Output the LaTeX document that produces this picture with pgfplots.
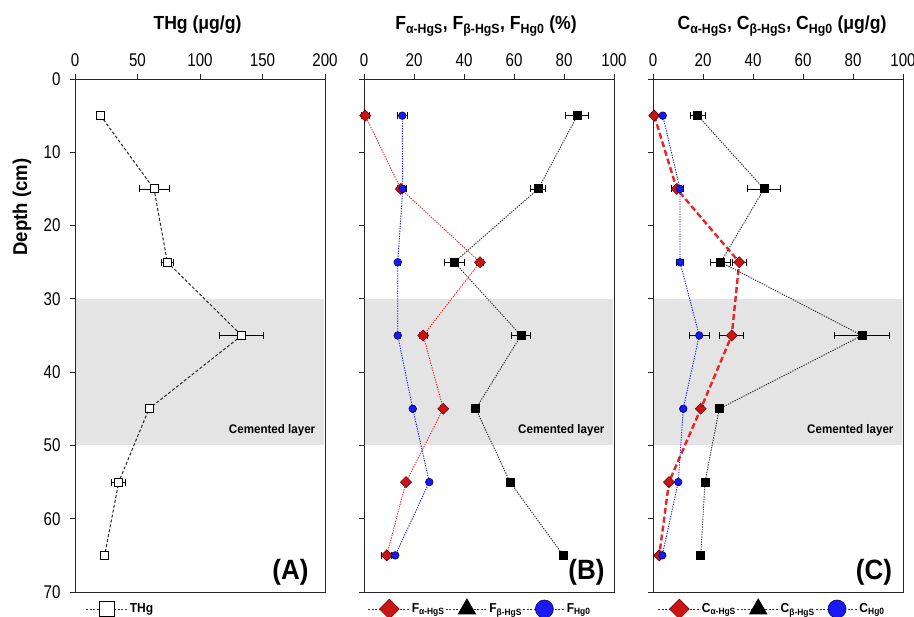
\documentclass[border=0pt]{standalone}
\usepackage{fontspec}
\setmainfont{Liberation Sans}
\newfontfamily\tickfont{Liberation Sans}[FakeStretch=0.82]
\newfontfamily\tfont{Liberation Sans}[FakeStretch=0.93]
\usepackage{pgfplots}
\pgfplotsset{compat=1.18}

\definecolor{dred}{RGB}{205,20,20}
\definecolor{lred}{RGB}{228,40,40}
\definecolor{mblue}{RGB}{25,25,245}
\definecolor{bandgray}{RGB}{228,228,228}

\tikzset{legline/.style={black!80, line width=0.8bp, dash pattern=on 2bp off 1.5bp}}

\pgfplotstableread{
x y ex
20.5 5 3
63.2 15 12
73.9 25 4.5
133.3 35 17.6
59.2 45 1.5
35 55 5.5
23.7 65 1
}\thg

\pgfplotstableread{
x y ex
0.5 5 1.5
14.7 15 1.5
46.4 25 1.5
23.7 35 1.5
31.7 45 1
16.8 55 0.5
9.1 65 2
}\Fa
\pgfplotstableread{
x y ex
85.3 5 4.6
69.7 15 3
36.1 25 3.9
62.8 35 3.7
44.7 45 0.5
58.4 55 0.5
79.7 65 1.5
}\Fb
\pgfplotstableread{
x y ex
15.3 5 2
15.5 15 1.5
13.5 25 1
13.5 35 1
19.5 45 0.5
26.1 55 0.5
12.5 65 0.5
}\Fh

\pgfplotstableread{
x y ex
0.5 5 1
9.5 15 2
34.5 25 2.8
31.5 35 4.8
19.1 45 1
6.4 55 0.5
2.5 65 0.5
}\Ca
\pgfplotstableread{
x y ex
17.9 5 3
44.4 15 6.7
27.1 25 4
83.6 35 11
26.5 45 0.5
20.8 55 0.5
19.1 65 0.5
}\Cb
\pgfplotstableread{
x y ex
3.9 5 0.5
10.8 15 1.5
10.8 25 1.5
18.5 35 4
12.1 45 0.5
10.1 55 0.5
3.7 65 0.5
}\Ch

\pgfplotsset{
  panel/.style={
    scale only axis, width=250bp, height=513bp,
    y dir=reverse, ymin=0, ymax=70, ytick={0,10,...,70},
    xtick pos=right, xticklabel pos=right,
    ytick pos=left, yticklabel pos=left,
    tick align=outside, major tick length=5bp,
    axis line style={black!85, line width=0.9bp},
    every tick/.style={black!85, line width=0.9bp},
    tick label style={font=\tickfont\fontsize{18.5}{18.5}\selectfont},
    xticklabel style={yshift=4bp},
    yticklabel style={xshift=-6bp},
    /pgf/number format/assume math mode=true,
    clip=false,
    legend cell align=left,
    legend style={draw=none, fill=none, inner sep=0pt, outer sep=0pt,
      font=\tfont\fontsize{13}{13}\selectfont\bfseries,
      legend columns=-1,
      /tikz/every even column/.append style={column sep=0pt},
      nodes={inner sep=1bp}},
    legend image code/.code={\draw[mark repeat=2,mark phase=2,##1] plot coordinates {(0bp,0bp) (21bp,0bp) (42bp,0bp)};},
  },
  ebar/.style={error bars/.cd, x dir=both, x explicit,
    error bar style={black, line width=0.8bp, solid},
    error mark options={black, line width=0.8bp, mark size=3.5bp, solid, rotate=90},
    /pgfplots/.cd},
}

\begin{document}
\begin{tikzpicture}
\path[use as bounding box] (0,0) rectangle (914bp,617bp);

% ---------- Panel A ----------
\begin{axis}[panel, at={(75bp,25bp)}, anchor=south west,
  xmin=0, xmax=200, xtick={0,50,...,200},
  legend style={at={(0.044,-0.033)}, anchor=west}]
\addplot[draw=none, fill=bandgray, forget plot] coordinates {(1,30) (199,30) (199,50) (1,50)} -- cycle;
\addplot[black!85, line width=1bp, dash pattern=on 3bp off 2bp,
  mark=square*, mark size=4bp, mark options={solid, fill=white, draw=black, line width=0.9bp},
  ebar, legend image post style={legline, mark size=7.5bp}]
  table[x=x, y=y, x error=ex] {\thg};
\addlegendentry{THg}
\node[anchor=east, font=\tfont\fontsize{12.5}{12.5}\selectfont\bfseries] at (axis cs:195,48) {Cemented layer};
\node[anchor=base east, font=\tfont\fontsize{28}{28}\selectfont\bfseries] at (axis cs:189.6,68.3) {(A)};
\end{axis}

% ---------- Panel B ----------
\begin{axis}[panel, at={(364bp,25bp)}, anchor=south west,
  xmin=0, xmax=100, xtick={0,20,...,100}, yticklabels={},
  legend style={at={(0.016,-0.033)}, anchor=west}]
\addplot[draw=none, fill=bandgray, forget plot] coordinates {(0.5,30) (99.5,30) (99.5,50) (0.5,50)} -- cycle;
\addplot[lred, line width=0.9bp, dash pattern=on 1.3bp off 1.2bp,
  mark=square*, mark size=3.9bp, mark options={solid, rotate=45, fill=dred, draw=red!45!black, line width=0.6bp},
  ebar, legend image post style={legline, mark size=7bp}]
  table[x=x, y=y, x error=ex] {\Fa};
\addlegendentry{F\textsubscript{α-HgS}}
\addplot[black!85, line width=0.9bp, dash pattern=on 1.3bp off 1.2bp,
  mark=square*, mark size=4bp, mark options={solid, fill=black, draw=black},
  ebar, legend image post style={legline, mark=triangle*, mark size=10bp}]
  table[x=x, y=y, x error=ex] {\Fb};
\addlegendentry{F\textsubscript{β-HgS}}
\addplot[mblue, line width=0.9bp, dash pattern=on 1.3bp off 1.2bp,
  mark=*, mark size=3.8bp, mark options={solid, fill=mblue, draw=blue!35!black, line width=0.6bp},
  ebar, legend image post style={legline, mark size=9bp}]
  table[x=x, y=y, x error=ex] {\Fh};
\addlegendentry{F\textsubscript{Hg0}}
\node[anchor=east, font=\tfont\fontsize{12.5}{12.5}\selectfont\bfseries] at (axis cs:97.6,48) {Cemented layer};
\node[anchor=base east, font=\tfont\fontsize{28}{28}\selectfont\bfseries] at (axis cs:97.6,68.3) {(B)};
\end{axis}

% ---------- Panel C ----------
\begin{axis}[panel, at={(653bp,25bp)}, anchor=south west,
  xmin=0, xmax=100, xtick={0,20,...,100}, yticklabels={},
  legend style={at={(0.02,-0.033)}, anchor=west}]
\addplot[draw=none, fill=bandgray, forget plot] coordinates {(0.5,30) (99.5,30) (99.5,50) (0.5,50)} -- cycle;
\addplot[lred, line width=2.4bp, dash pattern=on 6bp off 3bp,
  mark=square*, mark size=3.9bp, mark options={solid, rotate=45, fill=dred, draw=red!45!black, line width=0.6bp},
  ebar, legend image post style={legline, mark size=7bp}]
  table[x=x, y=y, x error=ex] {\Ca};
\addlegendentry{C\textsubscript{α-HgS}}
\addplot[black!85, line width=0.9bp, dash pattern=on 1.3bp off 1.2bp,
  mark=square*, mark size=4bp, mark options={solid, fill=black, draw=black},
  ebar, legend image post style={legline, mark=triangle*, mark size=10bp}]
  table[x=x, y=y, x error=ex] {\Cb};
\addlegendentry{C\textsubscript{β-HgS}}
\addplot[mblue, line width=0.9bp, dash pattern=on 1.3bp off 1.2bp,
  mark=*, mark size=3.8bp, mark options={solid, fill=mblue, draw=blue!35!black, line width=0.6bp},
  ebar, legend image post style={legline, mark size=9bp}]
  table[x=x, y=y, x error=ex] {\Ch};
\addlegendentry{C\textsubscript{Hg0}}
\node[anchor=east, font=\tfont\fontsize{12.5}{12.5}\selectfont\bfseries] at (axis cs:97.6,48) {Cemented layer};
\node[anchor=base east, font=\tfont\fontsize{28}{28}\selectfont\bfseries] at (axis cs:97,68.3) {(C)};
\end{axis}

% ---------- titles and depth label ----------
\node[anchor=base, font=\tfont\fontsize{19}{19}\selectfont\bfseries] at (197.5bp,587bp) {THg (μg/g)};
\node[anchor=base, font=\tfont\fontsize{19}{19}\selectfont\bfseries] at (486bp,587bp) {F\textsubscript{α-HgS}, F\textsubscript{β-HgS}, F\textsubscript{Hg0} (\%)};
\node[anchor=base, font=\tfont\fontsize{19}{19}\selectfont\bfseries] at (782bp,587bp) {C\textsubscript{α-HgS}, C\textsubscript{β-HgS}, C\textsubscript{Hg0} (μg/g)};
\node[rotate=90, font=\tfont\fontsize{20}{20}\selectfont\bfseries] at (22bp,410bp) {Depth (cm)};
\end{tikzpicture}
\end{document}
